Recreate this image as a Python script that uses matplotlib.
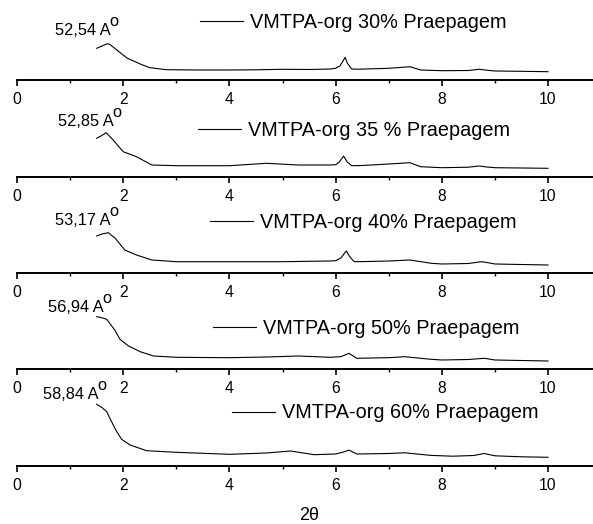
"""
Stacked XRD patterns (low angle) for VMTPA-org samples, 30-60 % Praepagem.
Each panel: one sample, bottom axis only, d-spacing annotated over the first peak.
"""

import matplotlib
matplotlib.use("Agg")
import matplotlib.pyplot as plt
from matplotlib.ticker import MultipleLocator

plt.rcParams["font.family"] = ["Liberation Sans", "DejaVu Sans"]

# ── Data (intensity in arbitrary units) ───────────────────────────────────────

LABELS    = ["VMTPA-org 30% Praepagem", "VMTPA-org 35 % Praepagem",
             "VMTPA-org 40% Praepagem", "VMTPA-org 50% Praepagem",
             "VMTPA-org 60% Praepagem"]
D_SPACING = ["52,54", "52,85", "53,17", "56,94", "58,84"]

TT_30  = [1.50, 1.60, 1.70, 1.75, 1.88, 2.07, 2.32, 2.50, 2.82, 3.45, 4.0, 4.5,
          5.0, 5.5, 5.9, 6.0, 6.08, 6.14, 6.18, 6.22, 6.30, 6.45, 7.0, 7.4, 7.6,
          8.0, 8.5, 8.7, 8.85, 9.0, 9.5, 10.0]
INT_30 = [31.7, 34, 36.3, 35.5, 30, 22, 16, 12.3, 10.3, 10, 10, 10.2,
          10.7, 10.5, 11, 11.7, 14, 19, 22.7, 17, 11, 10.8, 11.7, 13.3, 10,
          9.3, 9.5, 10.7, 9.8, 9, 8.7, 8.3]

TT_35  = [1.50, 1.58, 1.68, 1.81, 2.0, 2.25, 2.54, 3.0, 3.5, 4.0, 4.7, 5.3,
          5.9, 6.0, 6.07, 6.15, 6.22, 6.30, 6.5, 7.0, 7.4, 7.6, 8.0, 8.5, 8.7,
          8.85, 9.0, 9.5, 10.0]
INT_35 = [38.7, 41, 44.3, 37, 25.3, 20.3, 12, 11.3, 11.3, 11.3, 13.7, 12,
          12, 12.3, 15, 21, 15, 11.3, 11.5, 13, 14.3, 10.3, 9.3, 9.8, 11,
          10, 9.3, 9, 8.7]

TT_40  = [1.50, 1.60, 1.72, 1.85, 2.03, 2.25, 2.54, 3.0, 4.0, 5.0, 5.9, 6.0,
          6.1, 6.2, 6.27, 6.35, 6.6, 7.0, 7.4, 7.8, 8.0, 8.5, 8.75, 8.9, 9.0,
          9.5, 10.0]
INT_40 = [37, 39, 40.3, 34.7, 23, 18, 13, 11.3, 11.3, 11.3, 12, 12.3,
          15, 22, 16, 11.3, 11.5, 12, 13, 9.7, 9, 9.5, 11.3, 10, 9,
          8.5, 8]

TT_50  = [1.50, 1.58, 1.69, 1.84, 1.94, 2.10, 2.32, 2.57, 3.0, 4.0, 4.7, 5.3,
          5.9, 6.1, 6.25, 6.4, 7.0, 7.3, 7.8, 8.0, 8.5, 8.8, 9.0, 9.5, 10.0]
INT_50 = [52.3, 51.5, 49.7, 39, 29.7, 23, 17.3, 13, 11.7, 11.3, 12, 13,
          11.7, 12.3, 15.7, 10.7, 11.3, 12.3, 9.7, 9, 9.5, 10.7, 9, 8.5, 8]

TT_60  = [1.50, 1.60, 1.69, 1.75, 1.86, 1.97, 2.13, 2.44, 3.0, 4.0, 4.7, 5.15,
          5.6, 6.0, 6.15, 6.25, 6.4, 7.0, 7.3, 7.8, 8.2, 8.6, 8.8, 9.0, 9.5, 10.0]
INT_60 = [61.7, 58.5, 54.3, 47.7, 36, 26.7, 21, 15.3, 13.7, 11.7, 13, 15,
          11.3, 12, 14, 15.9, 12, 12.5, 13.2, 10.6, 9.8, 10.5, 12.5, 10.2, 9.2, 8.7]

SERIES = [(TT_30, INT_30), (TT_35, INT_35), (TT_40, INT_40),
          (TT_50, INT_50), (TT_60, INT_60)]

# ── Layout (pixel positions on the 593x524 canvas) ────────────────────────────

W, H      = 593, 524
SPINE_Y   = [80, 177, 273, 369, 466]
LEG_X     = [200, 198, 210, 213, 232]
LEG_Y     = [22, 130, 222, 328, 413]
ANN_X     = [55, 58, 55, 48, 43]
ANN_Y     = [35, 126, 225, 312, 399]
AX_LEFT   = 17
AX_H      = 90


def fx(px):
    return px / W


def fy(py):
    return 1 - py / H


fig = plt.figure(figsize=(W / 100, H / 100), dpi=100)

for i, (tt, inten) in enumerate(SERIES):
    ax = fig.add_axes([fx(AX_LEFT), fy(SPINE_Y[i]), 1 - fx(AX_LEFT), AX_H / H])
    ax.plot(tt, inten, color="black", lw=0.8, label=LABELS[i])
    ax.set_xlim(0, (W - AX_LEFT) / 53.1)
    ax.set_ylim(0, AX_H)
    ax.patch.set_visible(False)
    for side in ("top", "left", "right"):
        ax.spines[side].set_visible(False)
    ax.spines["bottom"].set_linewidth(1.4)
    ax.set_yticks([])
    ax.xaxis.set_major_locator(MultipleLocator(2))
    ax.xaxis.set_minor_locator(MultipleLocator(1))
    ax.tick_params(axis="x", which="major", direction="out", length=4.5,
                   width=1.2, labelsize=11.3, pad=4)
    ax.tick_params(axis="x", which="minor", direction="out", length=2.5,
                   width=1.0)

    ax.legend(loc="center left", bbox_to_anchor=(fx(LEG_X[i]), fy(LEG_Y[i])),
              bbox_transform=fig.transFigure, frameon=False, fontsize=14.3,
              borderpad=0, borderaxespad=0, handlelength=2.17,
              handletextpad=0.35)

    # d-spacing label with a raised "o" (Angstrom mark as drawn in the original)
    t = fig.text(fx(ANN_X[i]), fy(ANN_Y[i]), D_SPACING[i] + " A",
                 fontsize=11.8, ha="left", va="baseline")
    ax.annotate("o", xy=(1, 0), xycoords=t, xytext=(-0.6, 6.5),
                textcoords="offset points", fontsize=11.8,
                ha="left", va="bottom", annotation_clip=False)

fig.text(fx(309), fy(515), "2θ", fontsize=13, ha="center", va="center")

fig.savefig("out.png", dpi=100)
plt.close(fig)
